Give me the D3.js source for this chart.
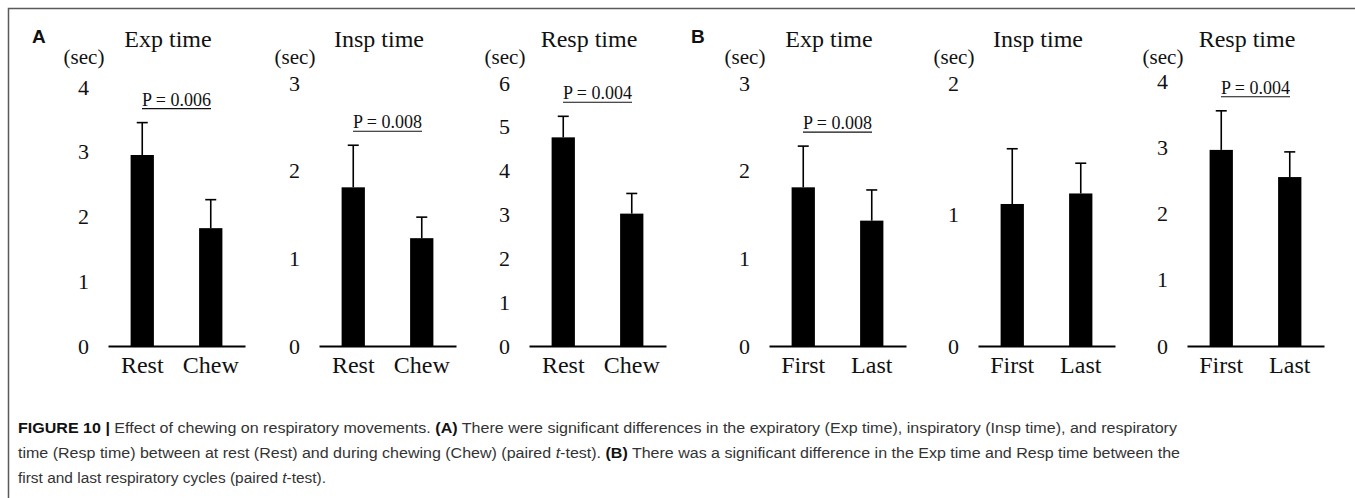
<!DOCTYPE html>
<html>
<head>
<meta charset="utf-8">
<script src="https://cdn.jsdelivr.net/npm/d3@7"></script>
<style>
  html, body { margin: 0; padding: 0; background: #fff; }
  svg { display: block; }
</style>
</head>
<body>
<svg id="fig" width="1355" height="498"></svg>
<script>
// Respiratory timing: mean ± SD for each condition (seconds)
const panelTitles = ["Exp time", "Insp time", "Resp time", "Exp time", "Insp time", "Resp time"];
const panelGroups = ["A", "A", "A", "B", "B", "B"];
const groupLabels = ["A", "B"];
const categoriesA = ["Rest", "Chew"];
const categoriesB = ["First", "Last"];
const meanValues = [
  [2.95, 1.82],
  [1.81, 1.23],
  [4.76, 3.02],
  [1.81, 1.43],
  [1.08, 1.16],
  [2.96, 2.55]
];
const sdValues = [
  [0.50, 0.44],
  [0.48, 0.24],
  [0.48, 0.46],
  [0.47, 0.35],
  [0.42, 0.23],
  [0.59, 0.38]
];
const yMaxValues = [4, 3, 6, 3, 2, 4];
const pLabels = ["P = 0.006", "P = 0.008", "P = 0.004", "P = 0.008", null, "P = 0.004"];
const unitLabel = "(sec)";

// Layout
const panelX = [108, 319, 529, 769, 978, 1187];
const panelTop = [87, 83, 83, 83, 83, 81];
const axisWidth = 137;
const baseY = 346;
const groupLabelX = { A: 32, B: 691 };

const svg = d3.select("#fig");
const serif = "'Liberation Serif', 'Times New Roman', Times, serif";
const ink = "#111";

// Figure frame (top and left rules)
svg.append("path")
  .attr("d", "M8.5,498 V8.5 H1355")
  .attr("fill", "none")
  .attr("stroke", "#5a5a5a")
  .attr("stroke-width", 1.5);

// Panel group letters
groupLabels.forEach(g => {
  svg.append("text")
    .attr("x", groupLabelX[g]).attr("y", 43)
    .attr("font-family", "'Liberation Sans', Arial, sans-serif")
    .attr("font-weight", "bold").attr("font-size", 19)
    .attr("fill", ink)
    .text(g);
});

panelTitles.forEach((title, i) => {
  const x0 = panelX[i];
  const cats = panelGroups[i] === "A" ? categoriesA : categoriesB;
  const g = svg.append("g");

  const x = d3.scaleBand()
    .domain(cats)
    .range([x0, x0 + axisWidth])
    .paddingInner(0.66)
    .paddingOuter(0.33);

  const y = d3.scaleLinear()
    .domain([0, yMaxValues[i]])
    .range([baseY, panelTop[i]]);

  // Title and unit
  g.append("text")
    .attr("x", x0 + 60).attr("y", 47)
    .attr("text-anchor", "middle")
    .attr("font-family", serif).attr("font-size", 24)
    .attr("fill", ink)
    .text(title);

  g.append("text")
    .attr("x", x0 - 24).attr("y", 64)
    .attr("text-anchor", "middle")
    .attr("font-family", serif).attr("font-size", 21)
    .attr("fill", ink)
    .text(unitLabel);

  // Y axis: labels only
  const yAxis = g.append("g")
    .attr("transform", `translate(${x0},0)`)
    .call(d3.axisLeft(y).ticks(yMaxValues[i]).tickFormat(d3.format("d"))
      .tickSize(0).tickPadding(19));
  yAxis.select(".domain").remove();
  yAxis.selectAll("text")
    .attr("font-family", serif).attr("font-size", 22)
    .attr("fill", ink);

  // Bars
  g.selectAll("rect.bar")
    .data(cats.map((c, j) => ({ c, m: meanValues[i][j], s: sdValues[i][j] })))
    .join("rect")
    .attr("class", "bar")
    .attr("x", d => x(d.c))
    .attr("width", x.bandwidth())
    .attr("y", d => y(d.m))
    .attr("height", d => baseY - y(d.m))
    .attr("fill", "#000");

  // Upper error bars
  const capW = 11;
  cats.forEach((c, j) => {
    const cx = x(c) + x.bandwidth() / 2;
    const m = meanValues[i][j], s = sdValues[i][j];
    g.append("line")
      .attr("x1", cx).attr("x2", cx)
      .attr("y1", y(m)).attr("y2", y(m + s))
      .attr("stroke", "#000").attr("stroke-width", 1.6);
    g.append("line")
      .attr("x1", cx - capW / 2).attr("x2", cx + capW / 2)
      .attr("y1", y(m + s)).attr("y2", y(m + s))
      .attr("stroke", "#000").attr("stroke-width", 1.6);
  });

  // X axis baseline and category labels
  const xAxis = g.append("g")
    .attr("transform", `translate(0,${baseY})`)
    .call(d3.axisBottom(x).tickSize(0).tickSizeOuter(0).tickPadding(10));
  xAxis.select(".domain")
    .attr("stroke", "#000").attr("stroke-width", 2);
  xAxis.selectAll("text")
    .attr("font-family", serif).attr("font-size", 24)
    .attr("fill", ink);

  // Significance label, underlined
  if (pLabels[i]) {
    const topErr = d3.min(cats.map((c, j) => y(meanValues[i][j] + sdValues[i][j])));
    const lineY = topErr - 14;
    const cx = x0 + axisWidth / 2;
    const t = g.append("text")
      .attr("x", cx).attr("y", lineY - 3)
      .attr("text-anchor", "middle")
      .attr("font-family", serif).attr("font-size", 18)
      .attr("fill", ink)
      .text(pLabels[i]);
    const w = t.node().getComputedTextLength();
    g.append("line")
      .attr("x1", cx - w / 2).attr("x2", cx + w / 2)
      .attr("y1", lineY).attr("y2", lineY)
      .attr("stroke", ink).attr("stroke-width", 1.1);
  }
});

// Caption: three lines in a condensed sans, each fitted to its set width
const captionLines = [
  { y: 433, width: 1159, parts: [
    { t: "FIGURE 10 | ", b: true },
    { t: "Effect of chewing on respiratory movements. " },
    { t: "(A)", b: true },
    { t: " There were significant differences in the expiratory (Exp time), inspiratory (Insp time), and respiratory" }
  ]},
  { y: 458, width: 1162, parts: [
    { t: "time (Resp time) between at rest (Rest) and during chewing (Chew) (paired " },
    { t: "t", i: true },
    { t: "-test). " },
    { t: "(B)", b: true },
    { t: " There was a significant difference in the Exp time and Resp time between the" }
  ]},
  { y: 483, width: 308, parts: [
    { t: "first and last respiratory cycles (paired " },
    { t: "t", i: true },
    { t: "-test)." }
  ]}
];

captionLines.forEach(line => {
  const txt = svg.append("text")
    .attr("x", 18).attr("y", line.y)
    .attr("font-family", "'Liberation Sans Narrow', 'Arial Narrow', 'Liberation Sans', Arial, sans-serif")
    .attr("font-size", 14)
    .attr("fill", "#333")
    .attr("xml:space", "preserve")
    .style("white-space", "pre");
  line.parts.forEach(p => {
    txt.append("tspan")
      .attr("font-weight", p.b ? "bold" : null)
      .attr("font-style", p.i ? "italic" : null)
      .attr("fill", p.b ? "#111" : null)
      .text(p.t);
  });
  txt.attr("textLength", line.width).attr("lengthAdjust", "spacingAndGlyphs");
});
</script>
</body>
</html>
